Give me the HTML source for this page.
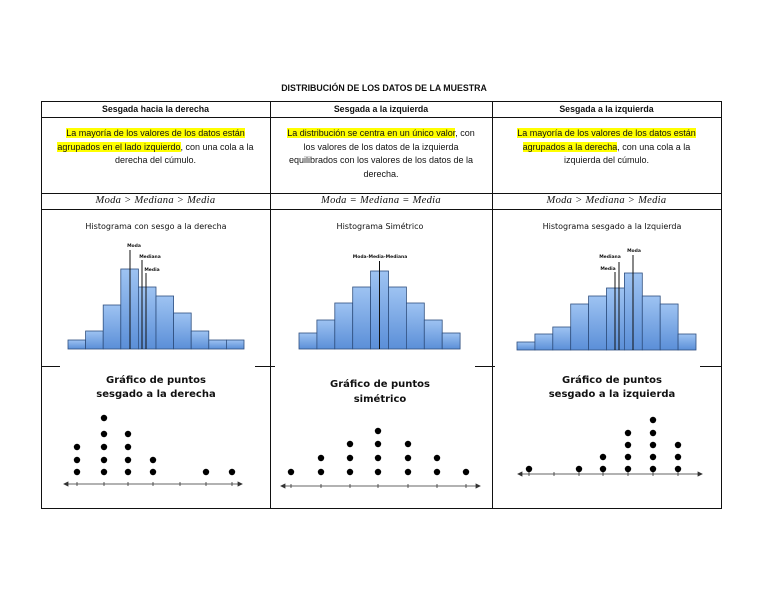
<!DOCTYPE html>
<html><head><meta charset="utf-8"><style>
body{margin:0;width:768px;height:594px;background:#fff;position:relative;overflow:hidden;font-family:"Liberation Sans",sans-serif;}
.t{position:absolute;text-align:center;color:#111;}
.h{font-weight:bold;font-size:8.8px;top:104px;}
.b{font-size:9px;line-height:13.5px;}
.y{background:#ffff00;}
.m{font-family:"Liberation Serif",serif;font-style:italic;font-size:10.5px;top:195px;letter-spacing:0.3px;}
svg{position:absolute;left:0;top:0}
</style></head><body>
<svg width="768" height="594" viewBox="0 0 768 594">
<defs><linearGradient id="g" x1="0" y1="0" x2="0" y2="1"><stop offset="0" stop-color="#9ec3f2"/><stop offset="1" stop-color="#5b8fd8"/></linearGradient></defs>
<g stroke="#111" stroke-width="1" fill="none">
<rect x="41.5" y="101.5" width="680" height="407"/>
<line x1="270.5" y1="101" x2="270.5" y2="508"/>
<line x1="492.5" y1="101" x2="492.5" y2="508"/>
<line x1="41" y1="117.5" x2="721" y2="117.5"/>
<line x1="41" y1="193.5" x2="721" y2="193.5"/>
<line x1="41" y1="209.5" x2="721" y2="209.5"/>
<line x1="41" y1="366.5" x2="721" y2="366.5"/>
</g>
<g fill="#fff">
<rect x="60" y="362" width="195" height="144"/>
<rect x="275" y="362" width="200" height="144"/>
<rect x="495" y="362" width="205" height="144"/>
</g>
<g font-family="'DejaVu Sans',sans-serif" fill="#111" text-anchor="middle">
<text x="156" y="229" font-size="8">Histograma con sesgo a la derecha</text>
<text x="380" y="229" font-size="8">Histograma Simétrico</text>
<text x="612" y="229" font-size="8">Histograma sesgado a la Izquierda</text>
<g font-weight="bold" font-size="10">
<text x="156" y="383">Gráfico de puntos</text>
<text x="156" y="397">sesgado a la derecha</text>
<text x="380" y="387">Gráfico de puntos</text>
<text x="380" y="402">simétrico</text>
<text x="612" y="383">Gráfico de puntos</text>
<text x="612" y="397">sesgado a la izquierda</text>
</g>
<g font-size="4.5" font-weight="bold">
<text x="134" y="247">Moda</text><text x="150" y="258">Mediana</text><text x="152" y="271">Media</text>
<text x="380" y="258">Moda-Media-Mediana</text>
<text x="634" y="252">Moda</text><text x="610" y="258">Mediana</text><text x="608" y="270">Media</text>
</g>
</g>
<g fill="url(#g)" stroke="#2f4f7f" stroke-width="0.8">
<rect x="68" y="340" width="17.6" height="9"/><rect x="85.6" y="331" width="17.6" height="18"/><rect x="103.2" y="305" width="17.6" height="44"/><rect x="120.8" y="269" width="17.6" height="80"/><rect x="138.4" y="287" width="17.6" height="62"/><rect x="156" y="296" width="17.6" height="53"/><rect x="173.6" y="313" width="17.6" height="36"/><rect x="191.2" y="331" width="17.6" height="18"/><rect x="208.8" y="340" width="17.6" height="9"/><rect x="226.4" y="340" width="17.6" height="9"/>
<rect x="299" y="333" width="17.9" height="16"/><rect x="316.9" y="320" width="17.9" height="29"/><rect x="334.8" y="303" width="17.9" height="46"/><rect x="352.7" y="287" width="17.9" height="62"/><rect x="370.6" y="271" width="17.9" height="78"/><rect x="388.5" y="287" width="17.9" height="62"/><rect x="406.4" y="303" width="17.9" height="46"/><rect x="424.3" y="320" width="17.9" height="29"/><rect x="442.2" y="333" width="17.9" height="16"/>
<rect x="517" y="342" width="17.9" height="8"/><rect x="534.9" y="334" width="17.9" height="16"/><rect x="552.8" y="327" width="17.9" height="23"/><rect x="570.7" y="304" width="17.9" height="46"/><rect x="588.6" y="296" width="17.9" height="54"/><rect x="606.5" y="288" width="17.9" height="62"/><rect x="624.4" y="273" width="17.9" height="77"/><rect x="642.3" y="296" width="17.9" height="54"/><rect x="660.2" y="304" width="17.9" height="46"/><rect x="678.1" y="334" width="17.9" height="16"/>
</g>
<g stroke="#111" stroke-width="1">
<line x1="130" y1="250" x2="130" y2="349"/><line x1="142" y1="260" x2="142" y2="349"/><line x1="146" y1="273" x2="146" y2="349"/>
<line x1="379.5" y1="261" x2="379.5" y2="349"/>
<line x1="633" y1="255" x2="633" y2="350"/><line x1="619" y1="262" x2="619" y2="350"/><line x1="615" y1="272" x2="615" y2="350"/>
</g>
<g stroke="#333" stroke-width="0.8" fill="#333">
<line x1="66" y1="484" x2="240" y2="484"/><path d="M64,484 l4,-2 v4z M242,484 l-4,-2 v4z"/>
<path d="M77,482v4M104,482v4M128,482v4M153,482v4M180,482v4M206,482v4M232,482v4"/>
<line x1="283" y1="486" x2="478" y2="486"/><path d="M281,486 l4,-2 v4z M480,486 l-4,-2 v4z"/>
<path d="M291,484v4M321,484v4M350,484v4M378,484v4M408,484v4M437,484v4M466,484v4"/>
<line x1="520" y1="474" x2="700" y2="474"/><path d="M518,474 l4,-2 v4z M702,474 l-4,-2 v4z"/>
<path d="M529,472v4M554,472v4M579,472v4M603,472v4M628,472v4M653,472v4M678,472v4"/>
</g>
<g fill="#000">
<circle cx="77" cy="472" r="3.2"/><circle cx="77" cy="460" r="3.2"/><circle cx="77" cy="447" r="3.2"/>
<circle cx="104" cy="472" r="3.2"/><circle cx="104" cy="460" r="3.2"/><circle cx="104" cy="447" r="3.2"/><circle cx="104" cy="434" r="3.2"/><circle cx="104" cy="418" r="3.2"/>
<circle cx="128" cy="472" r="3.2"/><circle cx="128" cy="460" r="3.2"/><circle cx="128" cy="447" r="3.2"/><circle cx="128" cy="434" r="3.2"/>
<circle cx="153" cy="472" r="3.2"/><circle cx="153" cy="460" r="3.2"/>
<circle cx="206" cy="472" r="3.2"/><circle cx="232" cy="472" r="3.2"/>
<circle cx="291" cy="472" r="3.2"/>
<circle cx="321" cy="472" r="3.2"/><circle cx="321" cy="458" r="3.2"/>
<circle cx="350" cy="472" r="3.2"/><circle cx="350" cy="458" r="3.2"/><circle cx="350" cy="444" r="3.2"/>
<circle cx="378" cy="472" r="3.2"/><circle cx="378" cy="458" r="3.2"/><circle cx="378" cy="444" r="3.2"/><circle cx="378" cy="431" r="3.2"/>
<circle cx="408" cy="472" r="3.2"/><circle cx="408" cy="458" r="3.2"/><circle cx="408" cy="444" r="3.2"/>
<circle cx="437" cy="472" r="3.2"/><circle cx="437" cy="458" r="3.2"/>
<circle cx="466" cy="472" r="3.2"/>
<circle cx="529" cy="469" r="3.2"/><circle cx="579" cy="469" r="3.2"/>
<circle cx="603" cy="469" r="3.2"/><circle cx="603" cy="457" r="3.2"/>
<circle cx="628" cy="469" r="3.2"/><circle cx="628" cy="457" r="3.2"/><circle cx="628" cy="445" r="3.2"/><circle cx="628" cy="433" r="3.2"/>
<circle cx="653" cy="469" r="3.2"/><circle cx="653" cy="457" r="3.2"/><circle cx="653" cy="445" r="3.2"/><circle cx="653" cy="433" r="3.2"/><circle cx="653" cy="420" r="3.2"/>
<circle cx="678" cy="469" r="3.2"/><circle cx="678" cy="457" r="3.2"/><circle cx="678" cy="445" r="3.2"/>
</g>
</svg>
<div class="t" style="left:0;width:768px;top:83px;font-weight:bold;font-size:8.8px;">DISTRIBUCIÓN DE LOS DATOS DE LA MUESTRA</div>
<div class="t h" style="left:41px;width:229px;">Sesgada hacia la derecha</div>
<div class="t h" style="left:270px;width:222px;">Sesgada a la izquierda</div>
<div class="t h" style="left:492px;width:229px;">Sesgada a la izquierda</div>
<div class="t b" style="left:43px;width:225px;top:127px;"><span class="y">La mayoría de los valores de los datos están</span><br><span class="y">agrupados en el lado izquierdo</span>, con una cola a la<br>derecha del cúmulo.</div>
<div class="t b" style="left:271px;width:220px;top:127px;"><span class="y">La distribución se centra en un único valor</span>, con<br>los valores de los datos de la izquierda<br>equilibrados con los valores de los datos de la<br>derecha.</div>
<div class="t b" style="left:494px;width:225px;top:127px;"><span class="y">La mayoría de los valores de los datos están</span><br><span class="y">agrupados a la derecha</span>, con una cola a la<br>izquierda del cúmulo.</div>
<div class="t m" style="left:41px;width:229px;">Moda &gt; Mediana &gt; Media</div>
<div class="t m" style="left:270px;width:222px;">Moda = Mediana = Media</div>
<div class="t m" style="left:492px;width:229px;">Moda &gt; Mediana &gt; Media</div>
</body></html>
